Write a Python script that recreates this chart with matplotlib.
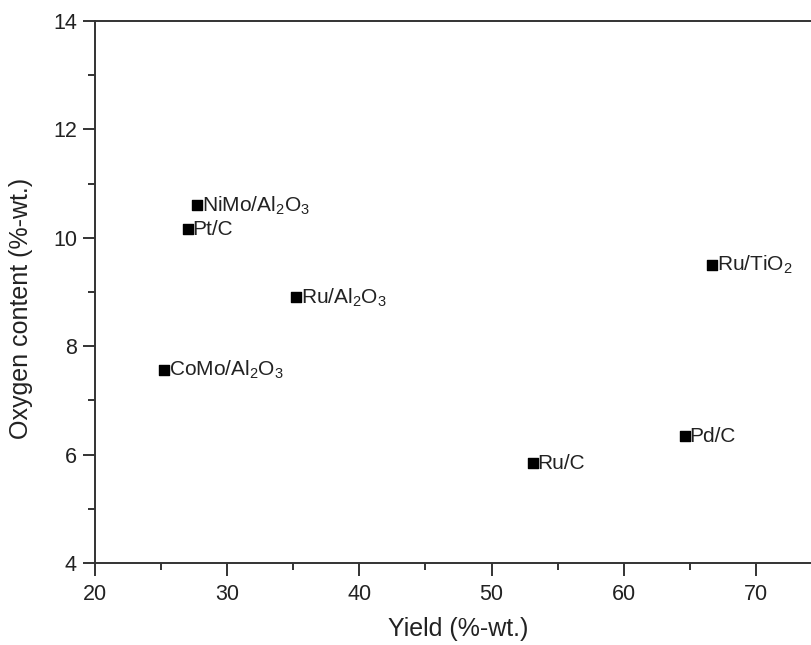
import numpy as np
import matplotlib.pyplot as plt
from matplotlib.ticker import MultipleLocator

plt.rcParams['font.family'] = ['Liberation Sans', 'DejaVu Sans']
plt.rcParams['mathtext.fontset'] = 'custom'
plt.rcParams['mathtext.rm'] = 'Liberation Sans'

catalysts = ['NiMo/Al$_2$O$_3$', 'Pt/C', 'Ru/Al$_2$O$_3$', 'CoMo/Al$_2$O$_3$',
             'Ru/C', 'Pd/C', 'Ru/TiO$_2$']
yield_wt = [27.7, 27.0, 35.2, 25.2, 53.1, 64.6, 66.7]
oxygen_wt = [10.6, 10.16, 8.9, 7.56, 5.84, 6.34, 9.5]

fig = plt.figure(figsize=(8.11, 6.45), dpi=100)
# plot box runs a little past the right edge of the figure
ax = fig.add_axes([95 / 811, (645 - 563) / 645, 727 / 811, 542 / 645])

ax.scatter(yield_wt, oxygen_wt, marker='s', s=55, color='black', zorder=3)
for name, x, y in zip(catalysts, yield_wt, oxygen_wt):
    ax.annotate(name, (x, y), xytext=(3.5, 0), textcoords='offset points',
                ha='left', va='center', fontsize=15, color='#222222')

ax.set_xlim(20, 75)
ax.set_ylim(4, 14)
ax.xaxis.set_minor_locator(MultipleLocator(5))
ax.yaxis.set_major_locator(MultipleLocator(2))
ax.yaxis.set_minor_locator(MultipleLocator(1))
ax.set_xticks([20, 30, 40, 50, 60, 70])

ax.spines['right'].set_visible(False)
for s in ['left', 'bottom', 'top']:
    ax.spines[s].set_linewidth(1.4)
    ax.spines[s].set_color('#333333')

ax.tick_params(which='major', direction='out', length=9, width=1.4,
               labelsize=15.5, colors='#333333', labelcolor='#222222')
ax.tick_params(axis='x', which='major', pad=6)
ax.tick_params(axis='y', which='major', pad=4)
ax.tick_params(which='minor', direction='out', length=5, width=1.4, colors='#333333')
ax.tick_params(top=False, right=False, which='both')

ax.set_xlabel('Yield (%-wt.)', fontsize=18, color='#222222', labelpad=9)
ax.set_ylabel('Oxygen content (%-wt.)', fontsize=18, color='#222222')
ax.yaxis.set_label_coords(-0.085, 0.47)

fig.savefig('out.png', dpi=100)
